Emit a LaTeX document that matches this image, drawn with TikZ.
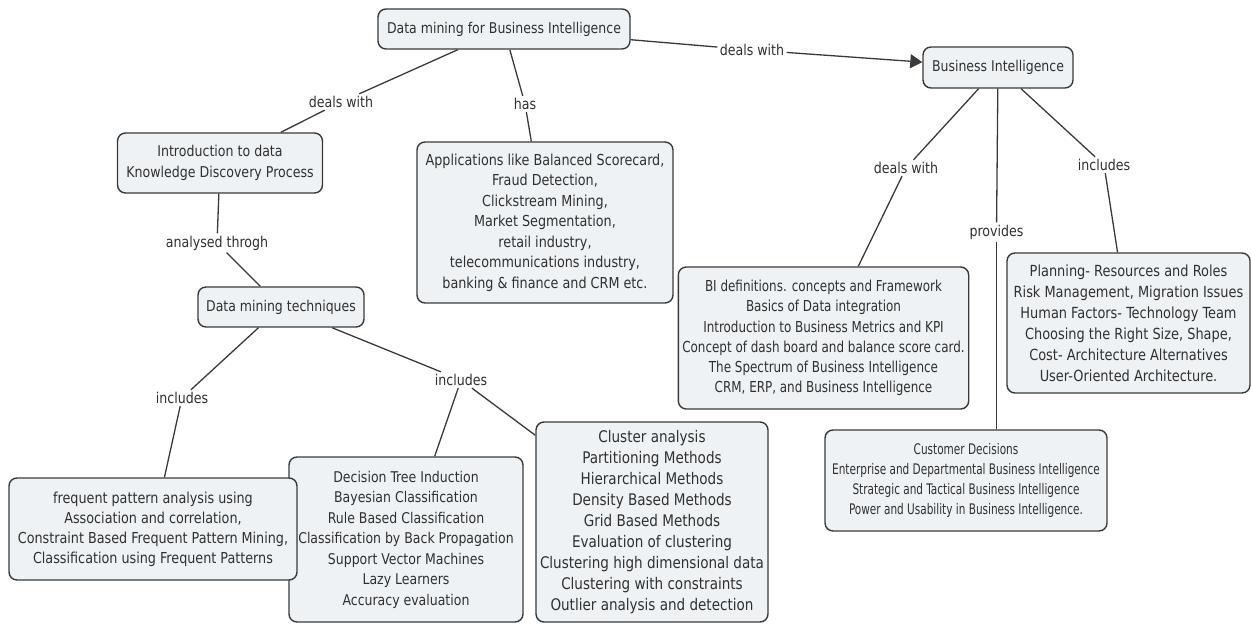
\documentclass[tikz,border=0pt]{standalone}
\usepackage{fontspec}
\setmainfont{DejaVu Sans Condensed}[FakeStretch=0.94]
\newfontfamily\bidefface{DejaVu Sans Condensed}[FakeStretch=0.88]
\newfontfamily\custface{DejaVu Sans Condensed}[FakeStretch=0.80]
\usepackage{tikz}
\usetikzlibrary{arrows.meta}
\definecolor{boxfill}{HTML}{EEF2F5}
\definecolor{boxline}{HTML}{3A3A3A}
\definecolor{inkgray}{HTML}{303030}
\newcommand\cmapfont[2]{\fontsize{#1}{#2}\selectfont}

\begin{document}
\begin{tikzpicture}[
    x=0.5pt, y=-0.5pt,
    >={Triangle[length=6pt, width=7pt]},
    concept/.style={draw=boxline, line width=0.7pt, rounded corners=4pt, fill=boxfill, align=center, text=inkgray, font=\cmapfont{7.4}{10.2}, inner sep=2pt},
    link/.style={inner sep=1pt, text=inkgray, font=\cmapfont{7.45}{10.2}},
    wire/.style={draw=boxline, line width=0.65pt},
]
    \useasboundingbox (0,0) rectangle (1251,624);

    % Top level concepts
    \node[concept, minimum width=126pt, minimum height=20pt] (dmbi) at (504,29) {Data mining for Business Intelligence};
    \node[concept, minimum width=75pt, minimum height=20.5pt] (bi) at (998,67.5) {Business Intelligence};

    % Data mining side
    \node[concept, minimum width=102.5pt, minimum height=30pt, font=\cmapfont{7.45}{10.2}] (intro) at (220,163) {Introduction to data\\Knowledge Discovery Process};
    \node[concept, minimum width=128pt, minimum height=80.5pt, font=\cmapfont{7.55}{10.25}] (apps) at (545,222.5) {Applications like Balanced Scorecard,\\Fraud Detection,\\Clickstream Mining,\\Market Segmentation,\\retail industry,\\telecommunications industry,\\banking \& finance and CRM etc.};
    \node[concept, minimum width=83pt, minimum height=20pt] (dmt) at (281,307) {Data mining techniques};
    \node[concept, minimum width=117pt, minimum height=82.5pt, font=\cmapfont{7.4}{10.25}] (dtree) at (406,539.5) {Decision Tree Induction\\Bayesian Classification\\Rule Based Classification\\Classification by Back Propagation\\Support Vector Machines\\Lazy Learners\\Accuracy evaluation};
    \node[concept, minimum width=144pt, minimum height=51pt, font=\cmapfont{7.55}{10}] (freq) at (153,529) {frequent pattern analysis using\\Association and correlation,\\Constraint Based Frequent Pattern Mining,\\Classification using Frequent Patterns};
    \node[concept, minimum width=115pt, minimum height=100pt, font=\cmapfont{8}{10.5}] (clust) at (652,522) {Cluster analysis\\Partitioning Methods\\Hierarchical Methods\\Density Based Methods\\Grid Based Methods\\Evaluation of clustering\\Clustering high dimensional data\\Clustering with constraints\\Outlier analysis and detection};

    % Business Intelligence side
    \node[concept, minimum width=143.5pt, minimum height=71pt, font=\bidefface\cmapfont{7.55}{10.1}] (bidef) at (823.5,338) {BI definitions. concepts and Framework\\Basics of Data integration\\Introduction to Business Metrics and KPI\\Concept of dash board and balance score card.\\The Spectrum of Business Intelligence\\CRM, ERP, and Business Intelligence};
    \node[concept, minimum width=121.5pt, minimum height=70pt, font=\cmapfont{7.65}{10.5}] (plan) at (1128.5,323) {Planning- Resources and Roles\\Risk Management, Migration Issues\\Human Factors- Technology Team\\Choosing the Right Size, Shape,\\Cost- Architecture Alternatives\\User-Oriented Architecture.};
    \node[concept, minimum width=141pt, minimum height=50.5pt, font=\custface\cmapfont{7.3}{9.85}] (cust) at (966,480.5) {Customer Decisions\\Enterprise and Departmental Business Intelligence\\Strategic and Tactical Business Intelligence\\Power and Usability in Business Intelligence.};

    % Linking phrases
    \node[link] (dealsA) at (341,102) {deals with};
    \node[link] (has) at (525,104) {has};
    \node[link] (dealsB) at (752,50) {deals with};
    \node[link] (analysed) at (217,243) {analysed throgh};
    \node[link] (inclA) at (182,398) {includes};
    \node[link] (inclB) at (461,380) {includes};
    \node[link] (dealsC) at (906,168) {deals with};
    \node[link] (provides) at (996.5,232) {provides};
    \node[link] (inclC) at (1104,165) {includes};

    % Connections
    \draw[wire] (dmbi) -- (dealsA);
    \draw[wire] (dealsA) -- (intro);
    \draw[wire] (dmbi) -- (has);
    \draw[wire] (has) -- (apps);
    \draw[wire] (dmbi) -- (dealsB);
    \draw[wire, ->] (dealsB) -- (bi);
    \draw[wire] (intro) -- (analysed);
    \draw[wire] (analysed) -- (dmt);
    \draw[wire] (dmt) -- (inclA);
    \draw[wire] (inclA) -- (freq);
    \draw[wire] (dmt) -- (inclB);
    \draw[wire] (inclB) -- (dtree);
    \draw[wire] (inclB) -- (clust);
    \draw[wire] (bi) -- (dealsC);
    \draw[wire] (dealsC) -- (bidef);
    \draw[wire] (bi) -- (provides);
    \draw[wire] (provides) -- (provides |- cust.north);
    \draw[wire] (bi) -- (inclC);
    \draw[wire] (inclC) -- (plan);

\end{tikzpicture}
\end{document}
